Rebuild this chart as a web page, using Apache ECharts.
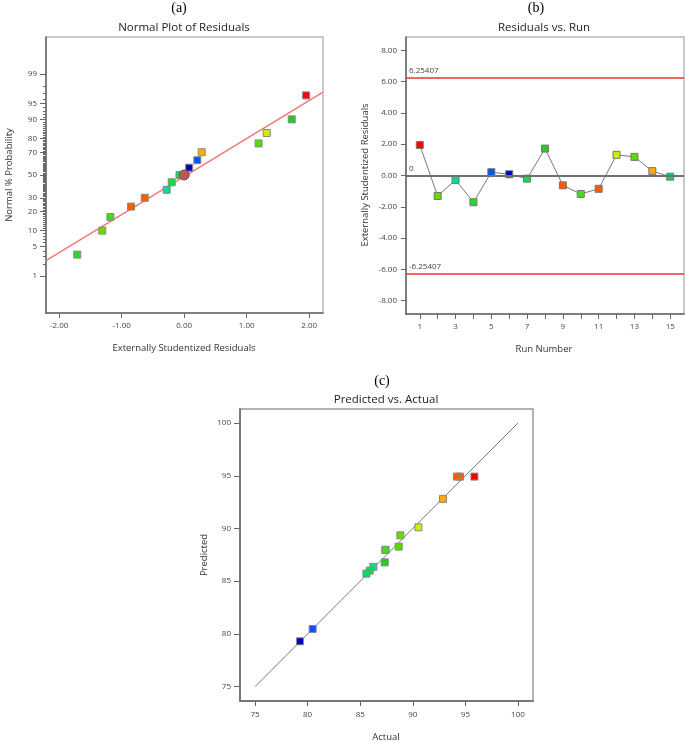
<!DOCTYPE html>
<html>
<head>
<meta charset="utf-8">
<script src="https://cdn.jsdelivr.net/npm/echarts@6/dist/echarts.min.js"></script>
<style>html,body{margin:0;padding:0;background:#fff}#c{width:685px;height:742px}</style>
</head>
<body>
<div id="c"></div>
<script>
// ---------- data ----------
// (a) Normal plot: residuals in rank order and their normal % probability
const normResid = [-1.71, -1.31, -1.18, -0.85, -0.63, -0.28, -0.20, -0.075, 0.08, 0.21, 0.28, 1.19, 1.32, 1.72, 1.95];
const normProb  = [3.33, 10, 16.67, 23.33, 30, 36.67, 43.33, 50, 56.67, 63.33, 70, 76.67, 83.33, 90, 96.67];
const normColors = ['#22dd22','#66dd00','#44dd11','#ff5a00','#ff5a00','#00e090','#11dd44','#00dd66','#0000cc','#0055ff','#ffaa00','#55dd00','#ccee00','#22cc22','#ff0000'];
const fitX = [-2.21, 2.22];
const fitProb = [2.41, 97.2];
const centerPoint = [0, 50];
const probTickLabels = [1, 5, 10, 20, 30, 50, 70, 80, 90, 95, 99];
const probMinorTicks = [2,3,4,6,7,8,9,11,12,13,14,15,16,17,18,19,21,22,23,24,25,26,27,28,29,31,32,33,34,35,36,37,38,39,40,41,42,43,44,45,46,47,48,49,51,52,53,54,55,56,57,58,59,60,61,62,63,64,65,66,67,68,69,71,72,73,74,75,76,77,78,79,81,82,83,84,85,86,87,88,89,91,92,93,94,96,97,98];
const residTickLabels = [-2, -1, 0, 1, 2];

// (b) Residuals vs run
const runs = [1,2,3,4,5,6,7,8,9,10,11,12,13,14,15];
const runResid = [1.95, -1.31, -0.28, -1.71, 0.21, 0.08, -0.20, 1.72, -0.63, -1.18, -0.85, 1.32, 1.19, 0.28, -0.075];
const runColors = ['#ff0000','#66dd00','#00e090','#22dd22','#0055ff','#0000cc','#11dd44','#22cc22','#ff5a00','#44dd11','#ff5a00','#ccee00','#55dd00','#ffaa00','#00dd66'];
const limits = [6.25407, -6.25407];
const runYTicks = [-8, -6, -4, -2, 0, 2, 4, 6, 8];
const runXLabels = [1, 3, 5, 7, 9, 11, 13, 15];

// (c) Predicted vs actual (by run)
const actual    = [95.86, 88.82, 86.25, 87.40, 80.48, 79.28, 85.90, 87.33, 94.50, 87.40, 94.20, 90.53, 88.66, 92.87, 85.59];
const predicted = [94.92, 89.35, 86.36, 87.97, 80.47, 79.30, 86.00, 86.79, 94.92, 87.97, 94.92, 90.11, 88.28, 92.81, 85.72];
const diagLine = [75, 100];
const pvaTicks = [75, 80, 85, 90, 95, 100];

// ---------- helpers (probability axis transform) ----------
function probit(p) {
  const a=[-3.969683028665376e+01,2.209460984245205e+02,-2.759285104469687e+02,1.383577518672690e+02,-3.066479806614716e+01,2.506628277459239e+00];
  const b=[-5.447609879822406e+01,1.615858368580409e+02,-1.556989798598866e+02,6.680131188771972e+01,-1.328068155288572e+01];
  const c=[-7.784894002430293e-03,-3.223964580411365e-01,-2.400758277161838e+00,-2.549732539343734e+00,4.374664141464968e+00,2.938163982698783e+00];
  const d=[7.784695709041462e-03,3.224671290700398e-01,2.445134137142996e+00,3.754408661907416e+00];
  const pl=0.02425, ph=1-pl; let q,r;
  if (p<pl){q=Math.sqrt(-2*Math.log(p));return (((((c[0]*q+c[1])*q+c[2])*q+c[3])*q+c[4])*q+c[5])/((((d[0]*q+d[1])*q+d[2])*q+d[3])*q+1);}
  if (p<=ph){q=p-0.5;r=q*q;return (((((a[0]*r+a[1])*r+a[2])*r+a[3])*r+a[4])*r+a[5])*q/(((((b[0]*r+b[1])*r+b[2])*r+b[3])*r+b[4])*r+1);}
  q=Math.sqrt(-2*Math.log(1-p));return -(((((c[0]*q+c[1])*q+c[2])*q+c[3])*q+c[4])*q+c[5])/((((d[0]*q+d[1])*q+d[2])*q+d[3])*q+1);
}
const pz = v => probit(v / 100);
const labelZ = probTickLabels.map(pz);

const FONT = '"Open Sans", "Noto Sans", sans-serif';
const tickLabel = { color: '#444', fontSize: 8, fontFamily: FONT };
const axisLine = { show: true, onZero: false, lineStyle: { color: '#666', width: 1.5 } };
const tickStyle = { color: '#666', width: 1 };

function textEl(x, y, text, size, opts) {
  opts = opts || {};
  return {
    type: 'text', x: x, y: y, rotation: opts.rot || 0, silent: true,
    style: { text: text, fill: opts.fill || '#333', font: (size) + 'px ' + (opts.family || FONT),
      textAlign: 'center', textVerticalAlign: 'middle' }
  };
}

const chart = echarts.init(document.getElementById('c'), null, { renderer: 'canvas' });

const option = {
  animation: false,
  backgroundColor: '#fff',
  grid: [
    { left: 46, top: 37, width: 277, height: 276, show: true, borderColor: '#b8b8b8', borderWidth: 1.5, backgroundColor: '#fff', outerBoundsMode: 'none' },
    { left: 406, top: 37, width: 278, height: 277, show: true, borderColor: '#b8b8b8', borderWidth: 1.5, backgroundColor: '#fff', outerBoundsMode: 'none' },
    { left: 240, top: 409, width: 293, height: 292, show: true, borderColor: '#999', borderWidth: 1.5, backgroundColor: '#fff', outerBoundsMode: 'none' }
  ],
  xAxis: [
    { gridIndex: 0, type: 'value', min: -2.21, max: 2.22, splitLine: { show: false }, axisLine: axisLine,
      axisTick: { show: true, length: 5, lineStyle: tickStyle, customValues: residTickLabels },
      axisLabel: Object.assign({ margin: 9, customValues: residTickLabels, formatter: v => v.toFixed(2) }, tickLabel) },
    { gridIndex: 1, type: 'value', min: 0.23, max: 15.77, splitLine: { show: false }, axisLine: axisLine,
      axisTick: { show: true, length: 5, lineStyle: tickStyle, customValues: runs },
      axisLabel: Object.assign({ margin: 9, customValues: runXLabels, formatter: v => String(v) }, tickLabel) },
    { gridIndex: 2, type: 'value', min: 73.57, max: 101.43, splitLine: { show: false }, axisLine: axisLine,
      axisTick: { show: true, length: 5, lineStyle: tickStyle, customValues: pvaTicks },
      axisLabel: Object.assign({ margin: 10, customValues: pvaTicks, formatter: v => String(v) }, tickLabel) }
  ],
  yAxis: [
    { gridIndex: 0, type: 'value', min: -3.18, max: 3.18, splitLine: { show: false }, axisLine: axisLine,
      axisTick: { show: true, length: 6, lineStyle: tickStyle, customValues: labelZ },
      axisLabel: Object.assign({ margin: 9, customValues: labelZ, formatter: function (v) {
        let best = 0, bd = 1e9; labelZ.forEach((z, i) => { const d = Math.abs(z - v); if (d < bd) { bd = d; best = i; } });
        return String(probTickLabels[best]); } }, tickLabel) },
    { gridIndex: 0, type: 'value', min: -3.18, max: 3.18, position: 'left', splitLine: { show: false },
      axisLine: { show: false, onZero: false },
      axisTick: { show: true, length: 3, lineStyle: tickStyle, customValues: probMinorTicks.map(pz) },
      axisLabel: { show: false } },
    { gridIndex: 1, type: 'value', min: -8.85, max: 8.85, splitLine: { show: false }, axisLine: axisLine,
      axisTick: { show: true, length: 5, lineStyle: tickStyle, customValues: runYTicks },
      axisLabel: Object.assign({ margin: 9, customValues: runYTicks, formatter: v => v.toFixed(2) }, tickLabel) },
    { gridIndex: 2, type: 'value', min: 73.64, max: 101.33, splitLine: { show: false }, axisLine: axisLine,
      axisTick: { show: true, length: 6, lineStyle: tickStyle, customValues: pvaTicks },
      axisLabel: Object.assign({ margin: 9, customValues: pvaTicks, formatter: v => String(v) }, tickLabel) }
  ],
  series: [
    // (a) fit line
    { type: 'line', xAxisIndex: 0, yAxisIndex: 0, symbol: 'none', silent: true,
      lineStyle: { color: '#f27878', width: 1.5 },
      data: fitX.map((x, i) => [x, pz(fitProb[i])]), z: 2 },
    // (a) points
    { type: 'scatter', xAxisIndex: 0, yAxisIndex: 0, symbol: 'rect', symbolSize: 7,
      data: normResid.map((x, i) => ({ value: [x, pz(normProb[i])], itemStyle: { color: normColors[i] } })),
      itemStyle: { borderColor: '#888', borderWidth: 1, opacity: 1 }, z: 3 },
    // (a) center marker
    { type: 'scatter', xAxisIndex: 0, yAxisIndex: 0, symbol: 'circle', symbolSize: 10,
      data: [[centerPoint[0], pz(centerPoint[1])]],
      itemStyle: { color: '#b65a5a', borderColor: '#8c4444', borderWidth: 1, opacity: 1 }, z: 4 },
    // (b) residuals vs run
    { type: 'line', xAxisIndex: 1, yAxisIndex: 2, symbol: 'rect', symbolSize: 7,
      lineStyle: { color: '#555', width: 0.8 },
      data: runs.map((r, i) => ({ value: [r, runResid[i]], itemStyle: { color: runColors[i], borderColor: '#777', borderWidth: 1, opacity: 1 } })),
      z: 3,
      markLine: { silent: true, symbol: 'none', animation: false,
        data: [
          { yAxis: limits[0], lineStyle: { color: '#ee3030', width: 1.5, type: 'solid', opacity: 1 }, label: { formatter: String(limits[0]) } },
          { yAxis: limits[1], lineStyle: { color: '#ee3030', width: 1.5, type: 'solid', opacity: 1 }, label: { formatter: String(limits[1]) } },
          { yAxis: 0, lineStyle: { color: '#707070', width: 2, type: 'solid', opacity: 1 }, label: { formatter: '0' } }
        ],
        label: { show: true, position: 'insideStartTop', distance: [3, 3], color: '#444', fontSize: 8, fontFamily: FONT } } },
    // (c) diagonal
    { type: 'line', xAxisIndex: 2, yAxisIndex: 3, symbol: 'none', silent: true,
      lineStyle: { color: '#555', width: 0.8 },
      data: diagLine.map(v => [v, v]), z: 2 },
    // (c) points
    { type: 'scatter', xAxisIndex: 2, yAxisIndex: 3, symbol: 'rect', symbolSize: 7,
      data: actual.map((a, i) => ({ value: [a, predicted[i]], itemStyle: { color: runColors[i] } })),
      itemStyle: { borderColor: '#888', borderWidth: 1, opacity: 1 }, z: 3 }
  ],
  graphic: [
    textEl(179, 8, '(a)', 14, { family: '"Liberation Serif", serif', fill: '#000' }),
    textEl(536, 8, '(b)', 14, { family: '"Liberation Serif", serif', fill: '#000' }),
    textEl(382, 381, '(c)', 14, { family: '"Liberation Serif", serif', fill: '#000' }),
    textEl(184, 28, 'Normal Plot of Residuals', 11.5, { fill: '#222' }),
    textEl(544, 28, 'Residuals vs. Run', 11.5, { fill: '#222' }),
    textEl(386, 400, 'Predicted vs. Actual', 11.5, { fill: '#222' }),
    textEl(184, 348, 'Externally Studentized Residuals', 9.5),
    textEl(9, 175, 'Normal % Probability', 9.5, { rot: Math.PI / 2 }),
    textEl(544, 349, 'Run Number', 9.5),
    textEl(365, 175, 'Externally Studentized Residuals', 9.5, { rot: Math.PI / 2 }),
    textEl(386, 737, 'Actual', 9.5),
    textEl(204, 555, 'Predicted', 9.5, { rot: Math.PI / 2 })
  ]
};
chart.setOption(option);
</script>
</body>
</html>
